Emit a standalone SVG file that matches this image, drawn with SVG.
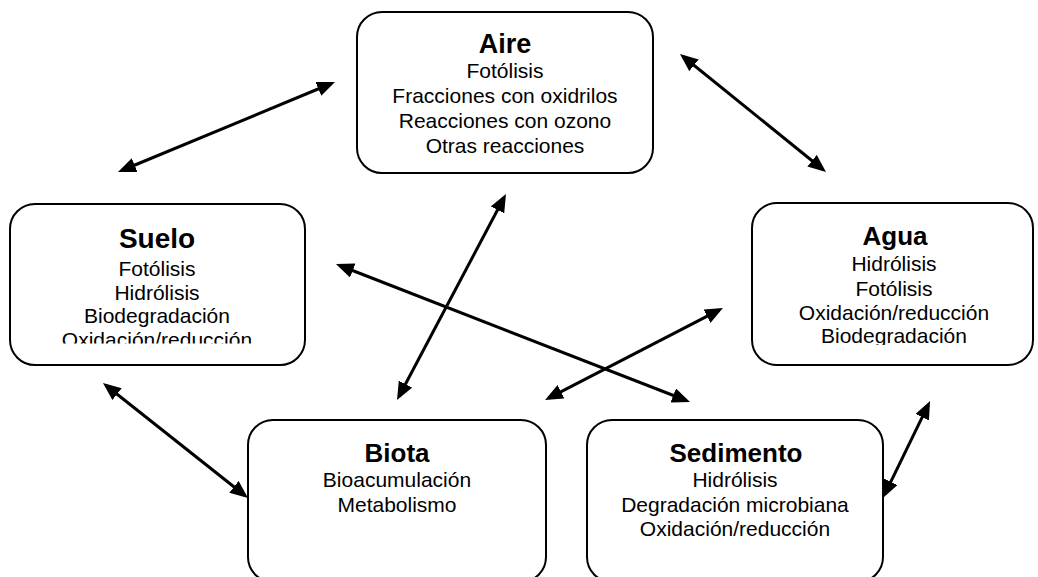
<svg xmlns="http://www.w3.org/2000/svg" width="1038" height="577" viewBox="0 0 1038 577">
<style>
.box{fill:#fff;stroke:#000;stroke-width:2}
.t{font-family:"Liberation Sans",Arial,sans-serif;font-weight:bold;font-size:26px;text-anchor:middle;fill:#000}
.b{font-family:"Liberation Sans",Arial,sans-serif;font-size:21px;text-anchor:middle;fill:#000}
.c{stroke:#000;stroke-width:3;fill:none;marker-start:url(#ah);marker-end:url(#ah)}
</style>
<defs>
<marker id="ah" markerUnits="userSpaceOnUse" markerWidth="18" markerHeight="15" viewBox="0 0 18 15" refX="14" refY="7.5" orient="auto-start-reverse">
<path d="M0,0 L18,7.5 L0,15 z" fill="#000"/>
</marker>
<clipPath id="clipSuelo"><rect x="0" y="0" width="1038" height="343.5"/></clipPath>
<clipPath id="clipAgua"><rect x="0" y="0" width="1038" height="345"/></clipPath>
</defs>
<rect width="1038" height="577" fill="#fff"/>
<g id="aire">
<rect class="box" x="357" y="12" width="296" height="161" rx="25"/>
<text class="t" x="505" y="53" style="font-size:27px">Aire</text>
<text class="b" x="505" y="78">Fotólisis</text>
<text class="b" x="505" y="103">Fracciones con oxidrilos</text>
<text class="b" x="505" y="128">Reacciones con ozono</text>
<text class="b" x="505" y="153">Otras reacciones</text>
</g>
<g id="suelo">
<rect class="box" x="10" y="204" width="295" height="161" rx="25"/>
<text class="t" x="157" y="248" style="font-size:28px">Suelo</text>
<text class="b" x="157" y="276">Fotólisis</text>
<text class="b" x="157" y="300">Hidrólisis</text>
<text class="b" x="157" y="323">Biodegradación</text>
<text class="b" x="157" y="347" clip-path="url(#clipSuelo)">Oxidación/reducción</text>
</g>
<g id="agua">
<rect class="box" x="752" y="203" width="281" height="162" rx="25"/>
<text class="t" x="895" y="245">Agua</text>
<text class="b" x="894" y="271">Hidrólisis</text>
<text class="b" x="894" y="296">Fotólisis</text>
<text class="b" x="894" y="320">Oxidación/reducción</text>
<text class="b" x="894" y="343" clip-path="url(#clipAgua)">Biodegradación</text>
</g>
<g id="biota">
<rect class="box" x="248" y="420" width="298" height="162" rx="25"/>
<text class="t" x="397" y="462">Biota</text>
<text class="b" x="397" y="487">Bioacumulación</text>
<text class="b" x="397" y="512">Metabolismo</text>
</g>
<g id="sedimento">
<rect class="box" x="587" y="420" width="296" height="162" rx="25"/>
<text class="t" x="736" y="462">Sedimento</text>
<text class="b" x="735" y="487">Hidrólisis</text>
<text class="b" x="735" y="512">Degradación microbiana</text>
<text class="b" x="735" y="536">Oxidación/reducción</text>
</g>
<g id="connectors">
<line class="c" x1="121.7" y1="170.5" x2="331.3" y2="83.5"/>
<line class="c" x1="683.1" y1="56.5" x2="822.9" y2="169.5"/>
<line class="c" x1="106.1" y1="385.5" x2="244.9" y2="495.5"/>
<line class="c" x1="928.3" y1="404.6" x2="884.7" y2="494.4"/>
<line class="c" x1="504.1" y1="197.5" x2="398.9" y2="396.5"/>
<line class="c" x1="339.7" y1="265.5" x2="686.3" y2="400.5"/>
<line class="c" x1="548.6" y1="398.2" x2="719.4" y2="309.8"/>
</g>
</svg>
